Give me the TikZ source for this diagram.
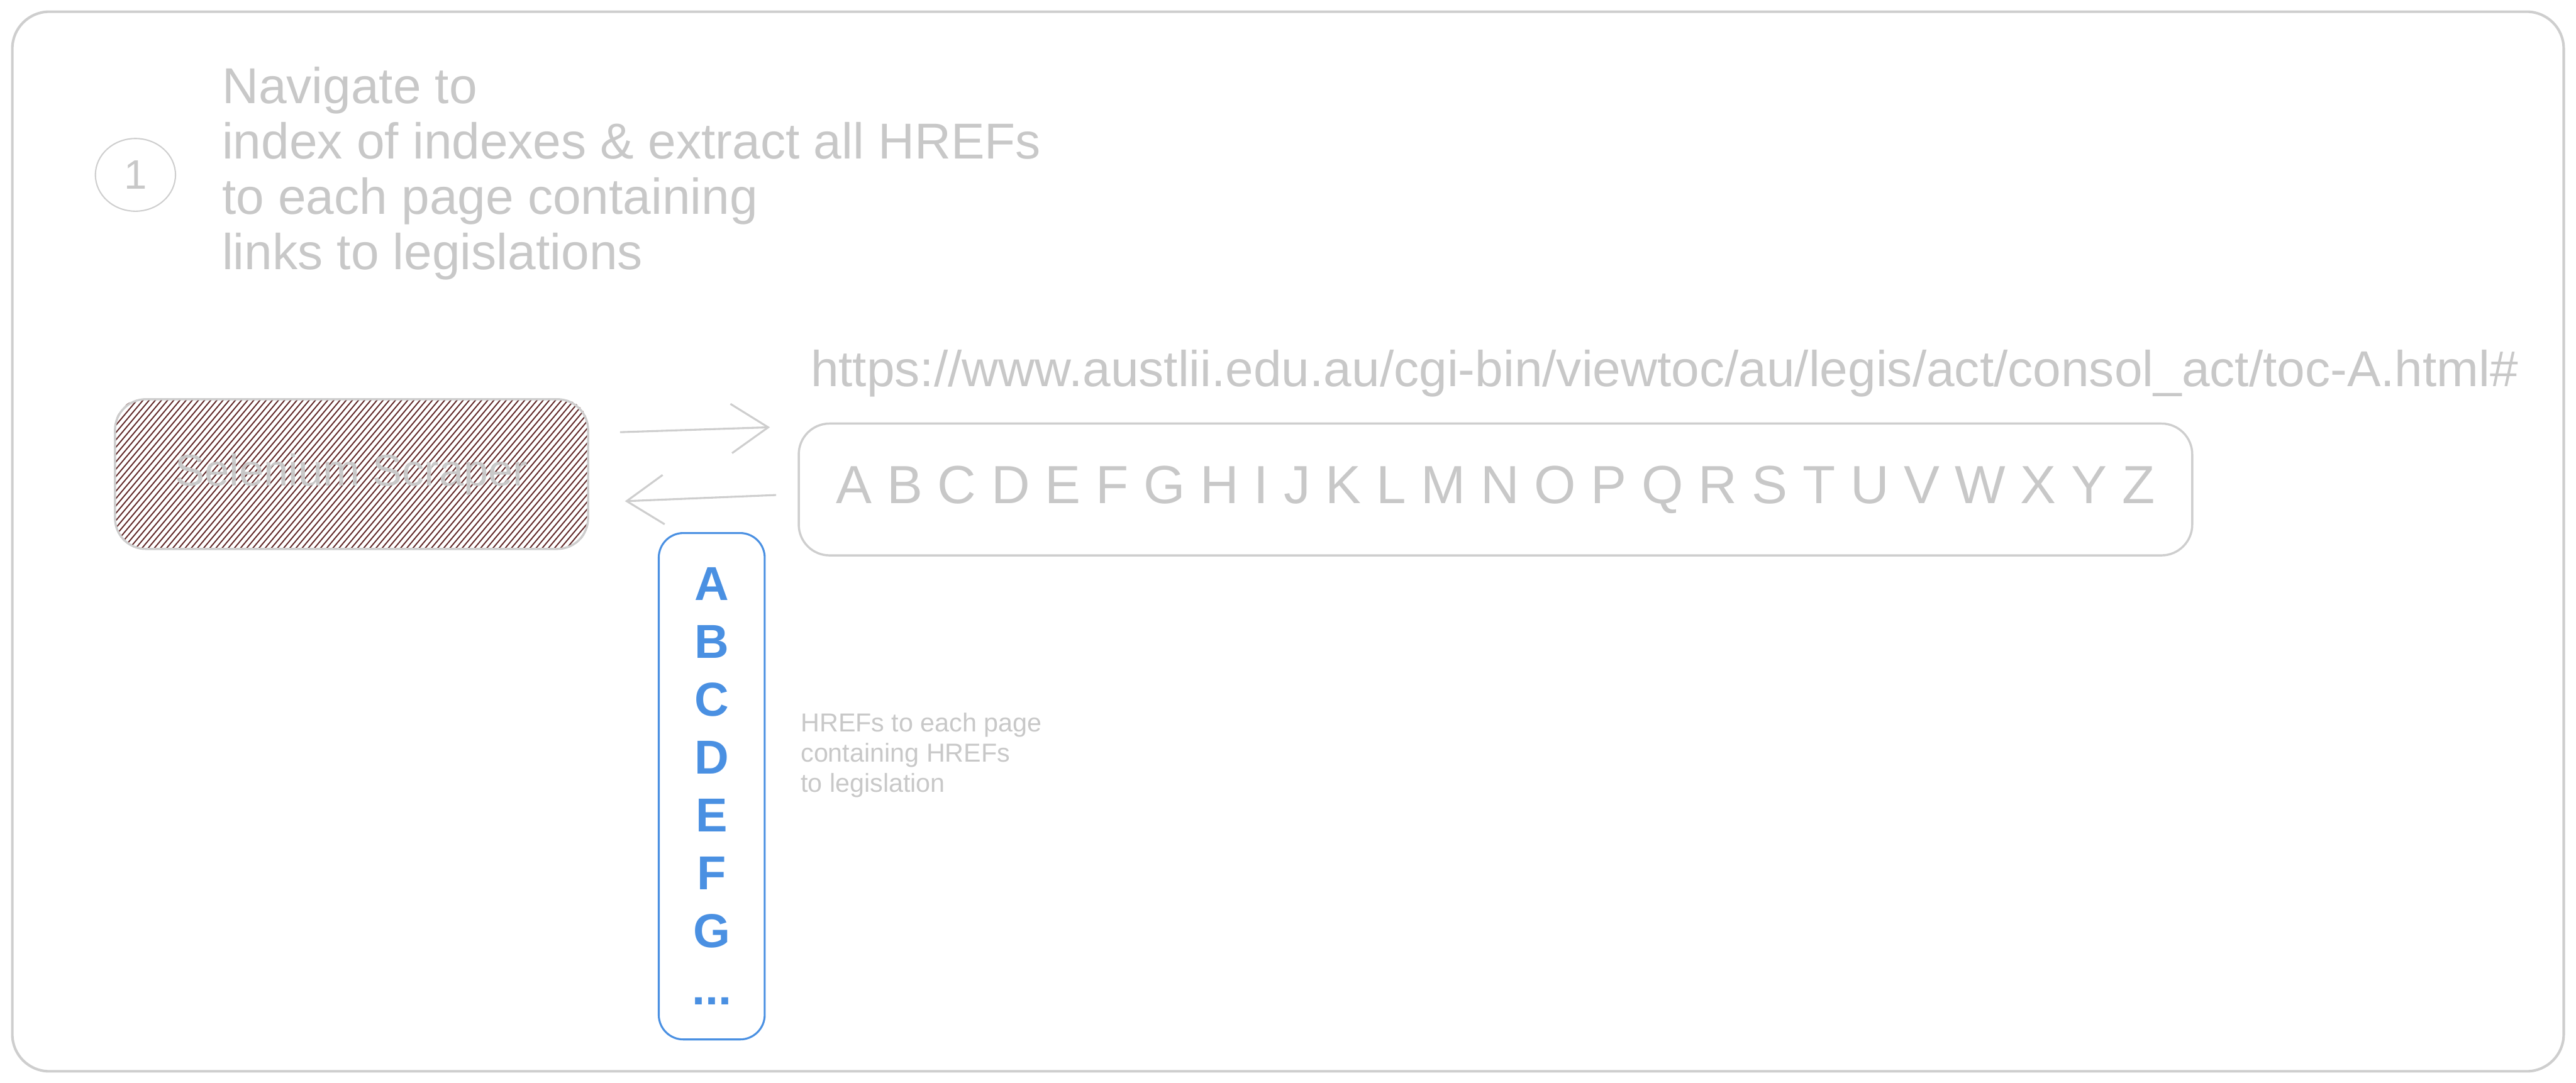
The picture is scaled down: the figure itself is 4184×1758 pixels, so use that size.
\documentclass[tikz,border=0pt]{standalone}
\usepackage{fontspec}
\setmainfont{Liberation Sans}
\usetikzlibrary{shapes.geometric, arrows.meta}

\definecolor{sketchgray}{RGB}{206,206,206}
\definecolor{labelgray}{RGB}{200,200,200}
\definecolor{listblue}{RGB}{74,144,226}
\definecolor{hatchbrown}{RGB}{95,38,38}

\begin{document}
\begin{tikzpicture}[
    x=0.01cm, y=-0.01cm,
    frame/.style={draw=sketchgray, line width=1.2pt, rounded corners=6mm},
    box/.style={rectangle, draw=sketchgray, line width=1pt, rounded corners=5mm, text=labelgray},
    listbox/.style={rectangle, draw=listblue, line width=0.9pt, rounded corners=4mm, text=listblue, align=center},
    note/.style={text=labelgray, align=left, inner sep=0pt},
    arrow/.style={-{Straight Barb[length=6mm, width=8mm]}, draw=sketchgray, line width=0.9pt}
]
    \useasboundingbox (0,0) rectangle (4184,1758);
    \draw[frame] (20,19) rectangle (4164,1740);

    % step marker and description
    \node[ellipse, draw=sketchgray, line width=0.6pt, minimum width=1.3cm, minimum height=1.18cm, text=labelgray, font=\fontsize{19}{19}\selectfont] (stepmark) at (220,284) {1};
    \node[note, anchor=north west, font=\fontsize{23.3}{25.6}\selectfont] (stepdesc) at (360,108) {Navigate to\\index of indexes \& extract all HREFs\\to each page containing\\links to legislations};

    % scraper, hatched
    \begin{scope}
        \clip[rounded corners=4.5mm] (187,648) rectangle (955,891);
        \foreach \x in {-30,-20,...,960}
            \draw[hatchbrown, line width=0.55pt] (\x,891) -- (\x+204,648);
    \end{scope}
    \node[box, minimum width=7.68cm, minimum height=2.43cm, font=\fontsize{20.5}{20.5}\selectfont] (scraper) at (571,770) {Selenium Scraper};

    % index page
    \node[box, minimum width=22.62cm, minimum height=2.14cm, font=\fontsize{24.8}{24.8}\selectfont] (pagebox) at (2429,795) {A B C D E F G H I J K L M N O P Q R S T U V W X Y Z};
    \node[note, anchor=base west, font=\fontsize{23.3}{23.3}\selectfont] (url) at (1316,628) {https://www.austlii.edu.au/cgi-bin/viewtoc/au/legis/act/consol\_act/toc-A.html\#};

    % extracted links
    \node[listbox, minimum width=1.72cm, minimum height=8.22cm, font=\fontsize{22}{26.7}\selectfont\bfseries] (hrefs) at (1156,1277) {A\\B\\C\\D\\E\\F\\G\\...};
    \node[note, anchor=north west, font=\fontsize{12}{14}\selectfont] (hrefnote) at (1300,1157) {HREFs to each page\\containing HREFs\\to legislation};

    \draw[arrow] ([xshift=5mm, yshift=6.8mm]scraper.east) -- ([xshift=-4.5mm, yshift=10.1mm]pagebox.west);
    \draw[arrow] ([xshift=-3.5mm, yshift=-0.9mm]pagebox.west) -- ([xshift=5.8mm, yshift=-4.4mm]scraper.east);
\end{tikzpicture}
\end{document}
